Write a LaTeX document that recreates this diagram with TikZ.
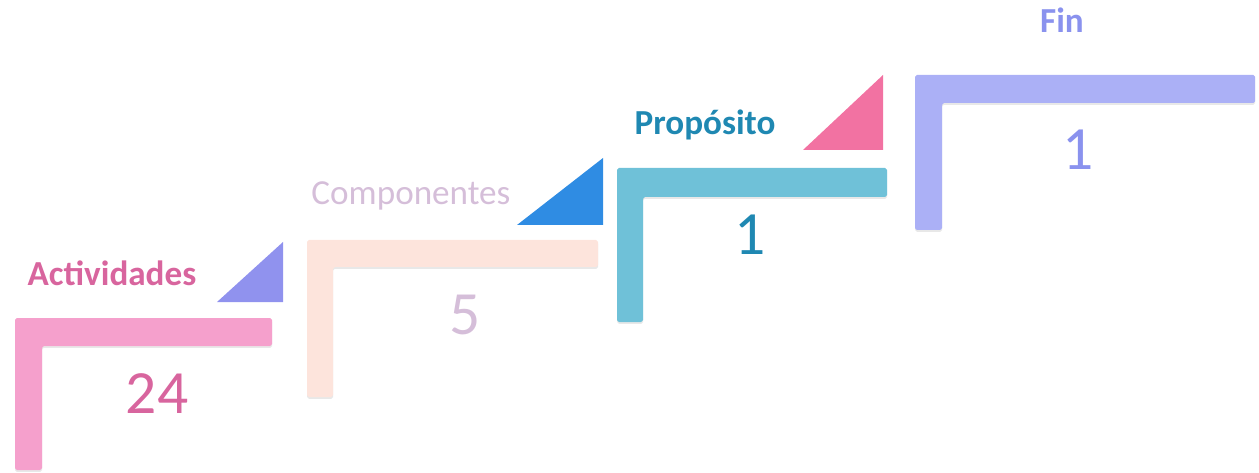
\documentclass[tikz,border=0pt]{standalone}
\usepackage{fontspec}
\setmainfont{Carlito}
\usetikzlibrary{shadows}
\definecolor{actBar}{HTML}{F5A0CC}
\definecolor{actText}{HTML}{D8659E}
\definecolor{actTri}{HTML}{9092EE}
\definecolor{compBar}{HTML}{FDE4DC}
\definecolor{compText}{HTML}{D5BED9}
\definecolor{compTri}{HTML}{2F8CE3}
\definecolor{propBar}{HTML}{6FC1D8}
\definecolor{propText}{HTML}{1F88B2}
\definecolor{propTri}{HTML}{F272A2}
\definecolor{finBar}{HTML}{ABB0F6}
\definecolor{finText}{HTML}{8A92EE}

\begin{document}
\begin{tikzpicture}[x=0.02cm, y=-0.02cm,
                    stepbar/.style={rounded corners=1pt,
                                    drop shadow={opacity=0.18, shadow xshift=0pt, shadow yshift=-1pt}},
                    tri/.style={line join=round},
                    lbl/.style={anchor=base, inner sep=0pt, font=\fontsize{20}{24}\selectfont},
                    num/.style={anchor=base, inner sep=0pt, font=\fontsize{35}{42}\selectfont}
                ]
                    \useasboundingbox (0,0) rectangle (1259,473);
                    % Actividades
                    \fill[stepbar, actBar] (15,318) -- (272,318) -- (272,346) -- (42,346) -- (42,470) -- (15,470) -- cycle;
                    \fill[tri, actTri] (217,302) -- (283,302) -- (283,242) -- cycle;
                    \node[lbl, text=actText] (lact) at (112,285) {\bfseries Actividades};
                    \node[num, text=actText] (nact) at (157,413) {24};
                    % Componentes
                    \fill[stepbar, compBar] (307,240) -- (598,240) -- (598,267) -- (333,267) -- (333,397) -- (307,397) -- cycle;
                    \fill[tri, compTri] (517,225) -- (603,225) -- (603,158) -- cycle;
                    \node[lbl, text=compText] (lcomp) at (411,205) {Componentes};
                    \node[num, text=compText] (ncomp) at (465,335) {5};
                    % Propósito
                    \fill[stepbar, propBar] (617,168) -- (887,168) -- (887,197) -- (643,197) -- (643,322) -- (617,322) -- cycle;
                    \fill[tri, propTri] (803,150) -- (883,150) -- (883,75) -- cycle;
                    \node[lbl, text=propText] (lprop) at (705,135) {\bfseries Propósito};
                    \node[num, text=propText] (nprop) at (750,255) {1};
                    % Fin
                    \fill[stepbar, finBar] (915,75) -- (1255,75) -- (1255,103) -- (942,103) -- (942,230) -- (915,230) -- cycle;
                    \node[lbl, text=finText] (lfin) at (1062,33) {\bfseries Fin};
                    \node[num, text=finText] (nfin) at (1078,170) {1};
                \end{tikzpicture}
\end{document}
